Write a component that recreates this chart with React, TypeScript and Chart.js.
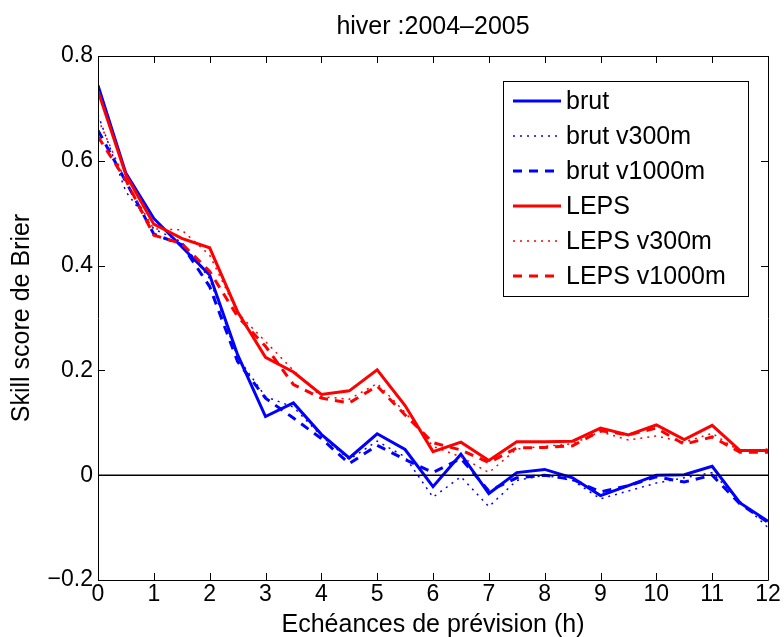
import React, { useEffect, useRef } from "react";
import { Chart, registerables } from "chart.js";

Chart.register(...registerables);

const hours = [0, 0.5, 1, 1.5, 2, 2.5, 3, 3.5, 4, 4.5, 5, 5.5, 6, 6.5, 7, 7.5, 8, 8.5, 9, 9.5, 10, 10.5, 11, 11.5, 12];

const brut = [0.744, 0.576, 0.49, 0.436, 0.382, 0.23, 0.112, 0.138, 0.078, 0.033, 0.079, 0.049, -0.022, 0.04, -0.035, 0.005, 0.011, -0.005, -0.039, -0.02, 0.0, 0.001, 0.017, -0.053, -0.088];
const brutV300 = [0.688, 0.541, 0.47, 0.445, 0.375, 0.225, 0.15, 0.13, 0.075, 0.03, 0.065, 0.035, -0.042, -0.003, -0.06, -0.01, 0.0, -0.01, -0.045, -0.03, -0.015, -0.005, 0.005, -0.05, -0.1];
const brutV1000 = [0.658, 0.56, 0.46, 0.44, 0.36, 0.217, 0.147, 0.109, 0.07, 0.022, 0.057, 0.03, 0.005, 0.032, -0.03, -0.005, 0.0, -0.008, -0.032, -0.02, -0.003, -0.013, 0.0, -0.055, -0.09];
const leps = [0.733, 0.573, 0.479, 0.452, 0.434, 0.312, 0.225, 0.197, 0.154, 0.161, 0.201, 0.133, 0.045, 0.063, 0.028, 0.064, 0.064, 0.065, 0.09, 0.077, 0.096, 0.068, 0.095, 0.047, 0.047];
const lepsV300 = [0.68, 0.56, 0.47, 0.468, 0.42, 0.31, 0.255, 0.2, 0.15, 0.145, 0.175, 0.12, 0.055, 0.035, 0.005, 0.05, 0.055, 0.06, 0.083, 0.067, 0.075, 0.063, 0.08, 0.045, 0.05];
const lepsV1000 = [0.646, 0.563, 0.458, 0.442, 0.389, 0.303, 0.246, 0.173, 0.147, 0.138, 0.17, 0.115, 0.062, 0.048, 0.024, 0.052, 0.053, 0.056, 0.085, 0.077, 0.09, 0.059, 0.073, 0.044, 0.044];

const seriesLabels = ["brut", "brut v300m", "brut v1000m", "LEPS", "LEPS v300m", "LEPS v1000m"];
const titleText = "hiver :2004\u20132005";
const xTitle = "Ech\u00e9ances de pr\u00e9vision (h)";
const yTitle = "Skill score de Brier";

const FONT = "'Liberation Sans', Arial, Helvetica, sans-serif";
const BLUE = "#0000ff";
const RED = "#ff0000";

const toPts = (vals: number[]) => vals.map((v, i) => ({ x: hours[i], y: v }));

const styleFor = (kind: string, color: string) => {
  if (kind === "solid") return { borderColor: color, borderWidth: 3, borderDash: [] as number[] };
  if (kind === "dot") return { borderColor: color, borderWidth: 1.5, borderDash: [2, 5] };
  return { borderColor: color, borderWidth: 3, borderDash: [9, 7] };
};

const framePlugin = {
  id: "frame",
  afterDatasetsDraw(chart: any) {
    const { ctx, chartArea, scales } = chart;
    const { left, right, top, bottom } = chartArea;
    const x = scales.x;
    const y = scales.y;
    ctx.save();
    ctx.strokeStyle = "#000";
    ctx.lineWidth = 1;
    ctx.setLineDash([]);
    ctx.beginPath();
    ctx.rect(Math.round(left) + 0.5, Math.round(top) + 0.5, Math.round(right - left), Math.round(bottom - top));
    ctx.stroke();
    const tl = 7;
    ctx.beginPath();
    x.ticks.forEach((t: any) => {
      const px = Math.round(x.getPixelForValue(t.value)) + 0.5;
      ctx.moveTo(px, bottom);
      ctx.lineTo(px, bottom - tl);
      ctx.moveTo(px, top);
      ctx.lineTo(px, top + tl);
    });
    y.ticks.forEach((t: any) => {
      const py = Math.round(y.getPixelForValue(t.value)) + 0.5;
      ctx.moveTo(left, py);
      ctx.lineTo(left + tl, py);
      ctx.moveTo(right, py);
      ctx.lineTo(right - tl, py);
    });
    ctx.stroke();

    // legend
    const items = chart.data.datasets.filter((d: any) => d.label);
    const bx = right - 265;
    const by = top + 25;
    const bw = 245;
    const bh = 215;
    ctx.fillStyle = "#fff";
    ctx.fillRect(bx, by, bw, bh);
    ctx.strokeStyle = "#000";
    ctx.lineWidth = 1;
    ctx.strokeRect(Math.round(bx) + 0.5, Math.round(by) + 0.5, bw, bh);
    ctx.font = `25px ${FONT}`;
    ctx.textBaseline = "middle";
    ctx.textAlign = "left";
    items.forEach((d: any, i: number) => {
      const cy = by + 20 + i * 35;
      ctx.beginPath();
      ctx.strokeStyle = d.borderColor;
      ctx.lineWidth = d.borderWidth;
      ctx.setLineDash(d.borderDash || []);
      ctx.moveTo(bx + 10, cy);
      ctx.lineTo(bx + 58, cy);
      ctx.stroke();
      ctx.fillStyle = "#000";
      ctx.fillText(d.label, bx + 63, cy + 1);
    });
    ctx.restore();
  },
};

export default function App() {
  const ref = useRef<HTMLCanvasElement | null>(null);
  useEffect(() => {
    document.body.style.margin = "0";
    document.body.style.overflow = "hidden";
    const canvas = ref.current;
    if (!canvas) return;
    const series = [brut, brutV300, brutV1000, leps, lepsV300, lepsV1000];
    const kinds = ["solid", "dot", "dash", "solid", "dot", "dash"];
    const colors = [BLUE, BLUE, BLUE, RED, RED, RED];
    const datasets: any[] = series.map((s, i) => ({
      label: seriesLabels[i],
      data: toPts(s),
      ...styleFor(kinds[i], colors[i]),
      pointRadius: 0,
      tension: 0,
      fill: false,
      order: 6 - i + 1,
    }));
    datasets.push({
      label: "",
      data: [
        { x: hours[0], y: 0 },
        { x: hours[hours.length - 1], y: 0 },
      ],
      borderColor: "#000",
      borderWidth: 1.5,
      pointRadius: 0,
      fill: false,
      order: 0,
    });
    const chart = new Chart(canvas, {
      type: "line",
      data: { datasets },
      plugins: [framePlugin],
      options: {
        animation: false,
        responsive: false,
        layout: { padding: { left: 0, right: 16, top: 0, bottom: 0 } },
        plugins: {
          legend: { display: false },
          tooltip: { enabled: false },
          title: {
            display: true,
            text: titleText,
            fullSize: false,
            color: "#000",
            font: { family: FONT, size: 25, weight: "normal" },
            padding: { top: 12, bottom: 14 },
          },
        },
        scales: {
          x: {
            type: "linear",
            min: 0,
            max: 12,
            afterFit: (s: any) => {
              s.height = 57;
            },
            grid: { display: false, drawTicks: false },
            border: { display: false },
            ticks: {
              stepSize: 1,
              color: "#000",
              padding: 1,
              font: { family: FONT, size: 23 },
              maxRotation: 0,
              autoSkip: false,
            },
            title: {
              display: true,
              text: xTitle,
              color: "#000",
              font: { family: FONT, size: 25 },
              padding: { top: 0, bottom: -3 },
            },
          },
          y: {
            type: "linear",
            min: -0.2,
            max: 0.8,
            afterFit: (s: any) => {
              s.width = 98;
            },
            grid: { display: false, drawTicks: false },
            border: { display: false },
            ticks: {
              stepSize: 0.2,
              color: "#000",
              padding: 5,
              font: { family: FONT, size: 23 },
              callback: (v: any) => {
                const r = Math.round(Number(v) * 10) / 10;
                if (r === 0) return "0";
                return r.toFixed(1).replace("-", "\u2212");
              },
            },
            title: {
              display: true,
              text: yTitle,
              color: "#000",
              font: { family: FONT, size: 25 },
              padding: { top: 7, bottom: 0 },
            },
          },
        },
      },
    });
    return () => chart.destroy();
  }, []);
  return (
    <div style={{ width: 784, height: 637 }}>
      <canvas ref={ref} width={784} height={637} style={{ display: "block" }} />
    </div>
  );
}
